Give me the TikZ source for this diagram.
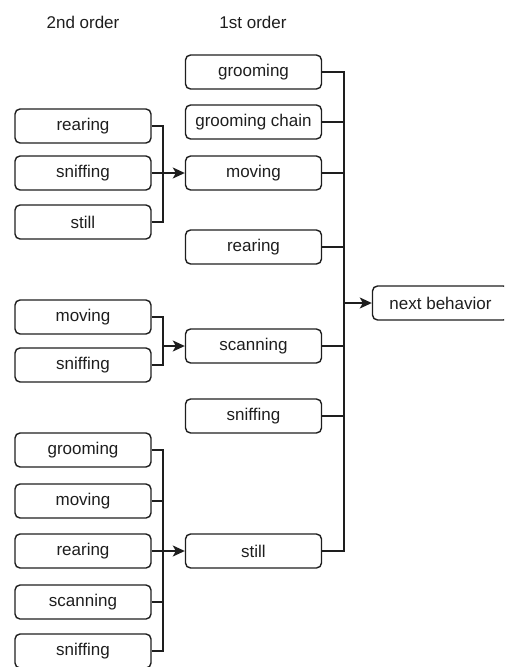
\documentclass[tikz,border=0pt]{standalone}
\usepackage{fontspec}
\setmainfont{Liberation Sans}
\usetikzlibrary{arrows.meta}
\definecolor{ink}{HTML}{1e1e1e}
\tikzset{
  bx/.style={draw=ink, text=ink, rounded corners=5pt, line width=1.4pt, minimum width=136pt, minimum height=34pt, inner sep=0pt, font=\fontsize{17}{19}\selectfont},
  hdr/.style={text=ink, inner sep=0pt, font=\fontsize{17}{19}\selectfont},
  ln/.style={draw=ink, line width=1.4pt},
  arr/.style={ln, -{Stealth[length=12pt,width=11pt,inset=3pt]}}
}
\begin{document}
\begin{tikzpicture}[x=1pt,y=-1pt]
\useasboundingbox (0,0) rectangle (504,667);
\clip (0,0) rectangle (504,667);
% headers
\node[hdr] (h2) at (83,22) {2nd order};
\node[hdr] (h1) at (253,22) {1st order};
% 1st order
\node[bx] (m1) at (253.5,72) {grooming};
\node[bx] (m2) at (253.5,122) {grooming chain};
\node[bx] (m3) at (253.5,173) {moving};
\node[bx] (m4) at (253.5,247) {rearing};
\node[bx] (m5) at (253.5,346) {scanning};
\node[bx] (m6) at (253.5,416) {sniffing};
\node[bx] (m7) at (253.5,551) {still};
\node[bx] (nb) at (440.5,303) {next behavior};
% 2nd order, group 1
\node[bx] (a1) at (83,126) {rearing};
\node[bx] (a2) at (83,173) {sniffing};
\node[bx] (a3) at (83,222) {still};
% group 2
\node[bx] (b1) at (83,317) {moving};
\node[bx] (b2) at (83,365) {sniffing};
% group 3
\node[bx] (c1) at (83,450) {grooming};
\node[bx] (c2) at (83,501) {moving};
\node[bx] (c3) at (83,551) {rearing};
\node[bx] (c4) at (83,602) {scanning};
\node[bx] (c5) at (83,651) {sniffing};
% bus coordinates
\coordinate (ja) at (163,173);
\coordinate (jb) at (163,346);
\coordinate (jc) at (163,551);
\coordinate (jr) at (344,303);
% group 1 connectors
\draw[ln] (a1.east) -| (ja);
\draw[ln] (a3.east) -| (ja);
\draw[ln] (a2.east) -- (ja);
\draw[arr] (ja) -- (m3.west);
% group 2 connectors
\draw[ln] (b1.east) -| (jb);
\draw[ln] (b2.east) -| (jb);
\draw[arr] (jb) -- (m5.west);
% group 3 connectors
\draw[ln] (c1.east) -| (jc);
\draw[ln] (c2.east) -| (jc);
\draw[ln] (c4.east) -| (jc);
\draw[ln] (c5.east) -| (jc);
\draw[ln] (c3.east) -- (jc);
\draw[arr] (jc) -- (m7.west);
% right bus
\draw[ln] (m1.east) -| (jr);
\draw[ln] (m2.east) -| (jr);
\draw[ln] (m3.east) -| (jr);
\draw[ln] (m4.east) -| (jr);
\draw[ln] (m5.east) -| (jr);
\draw[ln] (m6.east) -| (jr);
\draw[ln] (m7.east) -| (jr);
\draw[arr] (jr) -- (nb.west);
\end{tikzpicture}
\end{document}
